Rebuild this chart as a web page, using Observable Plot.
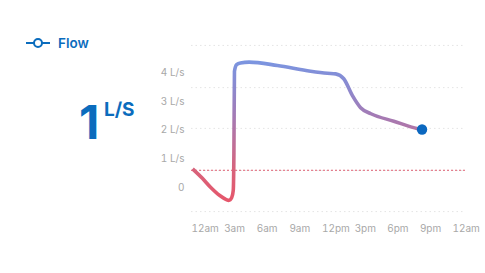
<!DOCTYPE html>
<html>
<head>
<meta charset="utf-8">
<script src="https://cdn.jsdelivr.net/npm/d3@7"></script>
<script src="https://cdn.jsdelivr.net/npm/@observablehq/plot@0.6"></script>
<style>
  html, body { margin: 0; padding: 0; background: #ffffff; }
  #card { position: relative; width: 485px; height: 273px; font-family: Inter, "Noto Sans", sans-serif; overflow: hidden; }
  #legend { position: absolute; left: 26px; top: 35px; display: flex; align-items: center; color: #0b6cbd; font-size: 13.5px; font-weight: 600; }
  #legend svg { margin-right: 8px; }
  #big { position: absolute; left: 79px; top: 98px; color: #0b6cbd; font-weight: 700; line-height: 1; }
  #big .num { font-size: 47px; letter-spacing: -1px; }
  #big .unit { position: absolute; left: 25px; top: 2px; font-size: 19px; }
  #chart { position: absolute; left: 160px; top: 30px; }
</style>
</head>
<body>
<div id="card">
  <div id="legend">
    <svg width="24" height="12"><line x1="0" y1="6" x2="24" y2="6" stroke="#0b6cbd" stroke-width="2"/><circle cx="12" cy="6" r="4" fill="#fff" stroke="#0b6cbd" stroke-width="2"/></svg>
    <span id="legendLabel"></span>
  </div>
  <div id="big"><span class="num" id="bigNum"></span><span class="unit" id="bigUnit"></span></div>
  <div id="chart"></div>
</div>
<script>
const seriesName = "Flow";
const currentValue = "1";
const currentUnit = "L/S";

// hours since midnight and flow (L/s)
const hours  = [0.1, 1.0, 1.75, 2.6, 3.2, 3.43, 3.7, 3.84, 3.9, 3.95, 4.15, 4.5, 5.3, 7.9, 10.95, 12.5, 13.25, 14.0, 14.8, 15.55, 16.5, 18.6, 20.8, 21.2];
const flows  = [0.65, 0.32, 0.01, -0.28, -0.42, -0.45, -0.35, -0.1, 1.2, 4.05, 4.28, 4.34, 4.37, 4.25, 4.05, 3.98, 3.96, 3.79, 3.2, 2.78, 2.57, 2.31, 2.05, 2.02];

const yTicks = [0, 1, 2, 3, 4];
const xTicks = [0, 3, 6, 9, 12, 15, 18, 21, 24];
const xTickLabels = ["12am", "3am", "6am", "9am", "12pm", "3pm", "6pm", "9pm", "12am"];
const gridValues = [4.95, 3.48, 2.06, 0.59, -0.84];
const thresholdValue = [0.6];

document.getElementById("legendLabel").textContent = seriesName;
document.getElementById("bigNum").textContent = currentValue;
document.getElementById("bigUnit").textContent = currentUnit;

const data = hours.map((h, i) => ({h, v: flows[i]}));
const last = [data[data.length - 1]];

const plot = Plot.plot({
  width: 325,
  height: 220,
  marginLeft: 31,
  marginRight: 33,
  marginTop: 0,
  marginBottom: 30,
  style: {fontFamily: "Inter, sans-serif", fontSize: "10px", color: "#b0b0b0", background: "transparent", overflow: "visible"},
  x: {domain: [0, 24], axis: null, label: null},
  y: {domain: [-1, 5], range: [185.7, 13.5], axis: null, label: null},
  marks: [
    Plot.ruleY(gridValues, {x1: 0, x2: 25.2, stroke: "#e4e4e4", strokeWidth: 1, strokeDasharray: "1.5,3"}),
    Plot.ruleY(thresholdValue, {x1: 0, x2: 25.2, stroke: "#df5f73", strokeWidth: 1, strokeDasharray: "2,2"}),
    Plot.axisY(yTicks, {
      tickSize: 0, tickPadding: 7, fontSize: 10, fill: "#a8a8a8", label: null,
      tickFormat: d => d === 0 ? "0" : `${d} L/s`
    }),
    Plot.axisX(xTicks, {
      tickSize: 0, tickPadding: 4, fontSize: 10, fill: "#a8a8a8", textAnchor: "start", dx: 0, label: null,
      tickFormat: (d, i) => xTickLabels[i]
    }),
    Plot.line(data, {x: "h", y: "v", stroke: "url(#flowGrad)", strokeWidth: 3.6, curve: "monotone-x", strokeLinecap: "butt", strokeLinejoin: "round"}),
    Plot.dot(last, {x: "h", y: "v", r: 5.2, fill: "#0b68c0", stroke: "none", style: {filter: "drop-shadow(0px 2px 2px rgba(0,0,0,0.3))"}})
  ]
});

// gradient along the value axis, positioned via the y scale
const ys = plot.scale("y");
const stops = [
  {v: -0.5, c: "#e6566b"},
  {v: 0.6, c: "#d8637b"},
  {v: 1.5, c: "#bf6f97"},
  {v: 2.5, c: "#a47bb5"},
  {v: 3.5, c: "#8b89cf"},
  {v: 4.4, c: "#7b95e0"}
];
const y1 = ys.apply(-0.5), y2 = ys.apply(4.4);
const svg = d3.select(plot.tagName.toLowerCase() === "svg" ? plot : plot.querySelector("svg"));
const grad = svg.insert("defs", ":first-child").append("linearGradient")
  .attr("id", "flowGrad").attr("gradientUnits", "userSpaceOnUse")
  .attr("x1", 0).attr("x2", 0).attr("y1", y1).attr("y2", y2);
stops.forEach(s => grad.append("stop").attr("offset", (ys.apply(s.v) - y1) / (y2 - y1)).attr("stop-color", s.c));

document.getElementById("chart").appendChild(plot);
</script>
</body>
</html>
